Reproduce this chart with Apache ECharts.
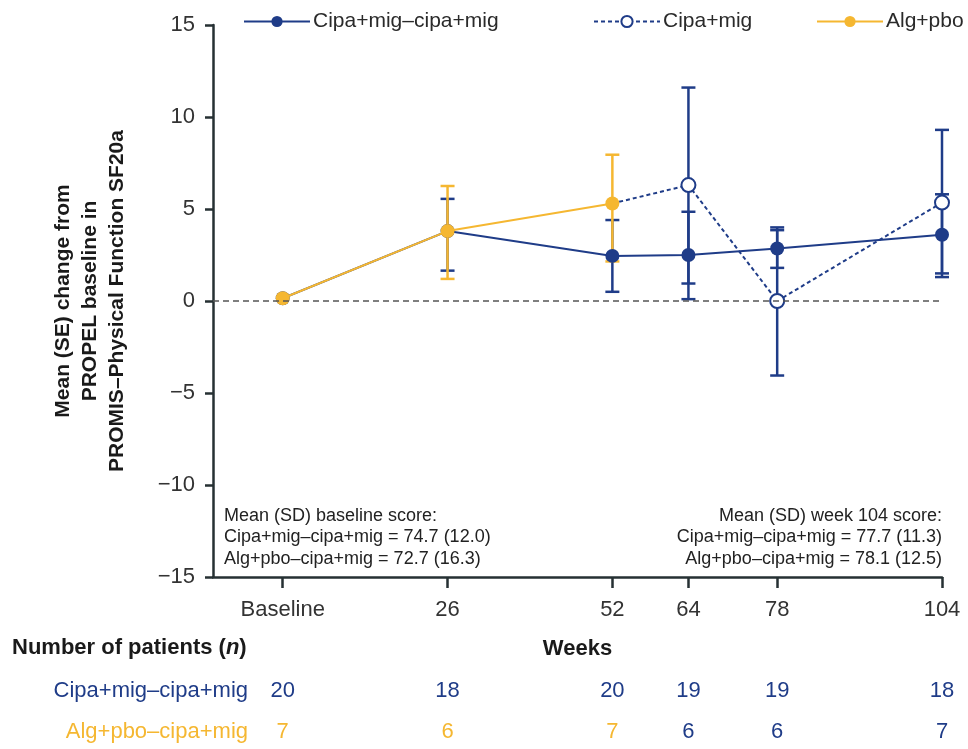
<!DOCTYPE html>
<html>
<head>
<meta charset="utf-8">
<script src="https://cdn.jsdelivr.net/npm/echarts@6/dist/echarts.min.js"></script>
<style>
  html, body { margin: 0; padding: 0; background: #fff; }
  #chart { width: 968px; height: 749px; }
</style>
</head>
<body>
<div id="chart"></div>
<script>
// weeks shown on the x axis (0 = baseline)
var weeks = [0, 26, 52, 64, 78, 104];
var tickWeeks = [0, 26, 52, 64, 78, 104];

// Cipa+mig–cipa+mig : mean (SE) change
var cipaMean = [0.15, 3.8, 2.45, 2.5, 2.85, 3.6];
var cipaLow  = [null, 1.65, 0.5, 0.1, 1.8, 1.5];
var cipaHigh = [null, 5.55, 4.4, 4.85, 3.85, 5.8];

// Alg+pbo period
var algWeeks = [0, 26, 52];
var algMean  = [0.15, 3.8, 5.3];
var algLow   = [null, 1.2, 2.15];
var algHigh  = [null, 6.25, 7.95];

// Alg+pbo switched to cipa+mig after week 52
var switchWeeks = [52, 64, 78, 104];
var switchMean  = [5.3, 6.3, 0, 5.35];
var switchLow   = [null, 0.95, -4.05, 1.3];
var switchHigh  = [null, 11.6, 4.0, 9.3];

// number of patients
var nCipa = [20, 18, 20, 19, 19, 18];
var nAlg  = [7, 6, 7, 6, 6, 7];
var switchAfter = 52;

var NAVY = '#1f3c88';
var GOLD = '#f5b731';
var AXIS = '#263033';
var FONT = "'Liberation Sans', Arial, sans-serif";

function pairs(xs, ys) {
  return xs.map(function (x, i) { return [x, ys[i]]; });
}
function bars(xs, lo, hi) {
  var out = [];
  xs.forEach(function (x, i) {
    if (lo[i] != null) out.push([x, lo[i], hi[i]]);
  });
  return out;
}
function errorBar(color) {
  return function (params, api) {
    var x = api.value(0);
    var a = api.coord([x, api.value(1)]);
    var b = api.coord([x, api.value(2)]);
    var hw = 7;
    var st = { stroke: color, lineWidth: 2.5 };
    return {
      type: 'group',
      children: [
        { type: 'line', shape: { x1: a[0], y1: a[1], x2: b[0], y2: b[1] }, style: st },
        { type: 'line', shape: { x1: a[0] - hw, y1: a[1], x2: a[0] + hw, y2: a[1] }, style: st },
        { type: 'line', shape: { x1: b[0] - hw, y1: b[1], x2: b[0] + hw, y2: b[1] }, style: st }
      ]
    };
  };
}

var myChart = echarts.init(document.getElementById('chart'));

var switchData = pairs(switchWeeks, switchMean).map(function (p, i) {
  return i === 0 ? { value: p, symbol: 'none' } : p;
});

var legendBase = {
  top: 11,
  padding: 0,
  itemWidth: 66,
  itemHeight: 14,
  itemGap: 0,
  textStyle: { fontFamily: FONT, fontSize: 21, color: '#2a2a2a', padding: [0, 0, 0, -2] }
};

myChart.setOption({
  animation: false,
  grid: { left: 213, right: 26, top: 25, bottom: 172 },
  legend: [
    Object.assign({ left: 243, data: ['Cipa+mig–cipa+mig'] }, legendBase),
    Object.assign({ left: 593, data: ['Cipa+mig'] }, legendBase),
    Object.assign({ left: 816, data: ['Alg+pbo'] }, legendBase)
  ],
  xAxis: {
    type: 'value',
    min: -11,
    max: 104,
    name: 'Weeks',
    nameLocation: 'middle',
    nameGap: 61,
    nameTextStyle: { fontFamily: FONT, fontSize: 22, fontWeight: 'bold', color: '#1a1a1a' },
    splitLine: { show: false },
    axisLine: { onZero: false, lineStyle: { color: AXIS, width: 2.5 } },
    axisTick: { customValues: tickWeeks, length: 11, lineStyle: { color: AXIS, width: 2.5 } },
    axisLabel: {
      customValues: tickWeeks,
      margin: 22,
      fontFamily: FONT, fontSize: 22, color: '#333',
      formatter: function (v) { return v === 0 ? 'Baseline' : String(v); }
    }
  },
  yAxis: {
    type: 'value',
    min: -15,
    max: 15,
    interval: 5,
    name: 'Mean (SE) change from\nPROPEL baseline in\nPROMIS–Physical Function SF20a',
    nameLocation: 'middle',
    nameRotate: 90,
    nameGap: 82,
    nameTextStyle: { fontFamily: FONT, fontSize: 21, fontWeight: 'bold', color: '#1a1a1a', lineHeight: 27, align: 'center' },
    splitLine: { show: false },
    axisLine: { show: true, onZero: false, lineStyle: { color: AXIS, width: 2.5 } },
    axisTick: { show: true, length: 8, lineStyle: { color: AXIS, width: 2.5 } },
    axisLabel: {
      margin: 18, fontFamily: FONT, fontSize: 22, color: '#333',
      formatter: function (v) { return v < 0 ? '\u2212' + Math.abs(v) : String(v); }
    }
  },
  series: [
    { type: 'custom', name: 'cipaErr', renderItem: errorBar(NAVY), data: bars(weeks, cipaLow, cipaHigh), z: 1 },
    { type: 'custom', name: 'switchErr', renderItem: errorBar(NAVY), data: bars(switchWeeks, switchLow, switchHigh), z: 1 },
    { type: 'custom', name: 'algErr', renderItem: errorBar(GOLD), data: bars(algWeeks, algLow, algHigh), z: 1 },
    {
      name: 'Cipa+mig–cipa+mig',
      type: 'line',
      data: pairs(weeks, cipaMean),
      symbol: 'circle',
      symbolSize: 14,
      itemStyle: { color: NAVY },
      lineStyle: { color: NAVY, width: 2 },
      z: 3,
      markLine: {
        silent: true,
        symbol: 'none',
        label: { show: false },
        lineStyle: { color: '#555', type: [6, 4], width: 1.5 },
        data: [{ yAxis: 0 }]
      }
    },
    {
      name: 'Cipa+mig',
      type: 'line',
      data: switchData,
      symbol: 'emptyCircle',
      symbolSize: 14,
      itemStyle: { color: NAVY, borderWidth: 2 },
      lineStyle: { color: NAVY, width: 2, type: [4, 3] },
      z: 3
    },
    {
      name: 'Alg+pbo',
      type: 'line',
      data: pairs(algWeeks, algMean),
      symbol: 'circle',
      symbolSize: 14,
      itemStyle: { color: GOLD },
      lineStyle: { color: GOLD, width: 2 },
      z: 4
    }
  ]
});

// annotation boxes and patient count table
var g = [];
var noteStyle = { fontFamily: FONT, fontSize: 18, fill: '#222' };
['Mean (SD) baseline score:', 'Cipa+mig–cipa+mig = 74.7 (12.0)', 'Alg+pbo–cipa+mig = 72.7 (16.3)']
  .forEach(function (t, i) {
    g.push({ type: 'text', left: 224, top: 507 + i * 21.5, style: Object.assign({ text: t }, noteStyle) });
  });
['Mean (SD) week 104 score:', 'Cipa+mig–cipa+mig = 77.7 (11.3)', 'Alg+pbo–cipa+mig = 78.1 (12.5)']
  .forEach(function (t, i) {
    g.push({ type: 'text', right: 26, top: 507 + i * 21.5, style: Object.assign({ text: t, textAlign: 'right' }, noteStyle) });
  });

g.push({
  type: 'text', left: 12, top: 637,
  style: {
    text: '{b|Number of patients (}{i|n}{b|)}',
    rich: {
      b: { fontFamily: FONT, fontSize: 22, fontWeight: 'bold', fill: '#1a1a1a' },
      i: { fontFamily: FONT, fontSize: 22, fontWeight: 'bold', fontStyle: 'italic', fill: '#1a1a1a' }
    }
  }
});
var rowY = [691, 732];
g.push({ type: 'text', x: 248, y: rowY[0], style: { text: 'Cipa+mig–cipa+mig', fontFamily: FONT, fontSize: 22, fill: NAVY, textAlign: 'right', textVerticalAlign: 'middle' } });
g.push({ type: 'text', x: 248, y: rowY[1], style: { text: 'Alg+pbo–cipa+mig', fontFamily: FONT, fontSize: 22, fill: GOLD, textAlign: 'right', textVerticalAlign: 'middle' } });

weeks.forEach(function (w, i) {
  var px = myChart.convertToPixel({ xAxisIndex: 0 }, w);
  g.push({ type: 'text', x: px, y: rowY[0], style: { text: String(nCipa[i]), fontFamily: FONT, fontSize: 22, fill: NAVY, textAlign: 'center', textVerticalAlign: 'middle' } });
  g.push({ type: 'text', x: px, y: rowY[1], style: { text: String(nAlg[i]), fontFamily: FONT, fontSize: 22, fill: w > switchAfter ? NAVY : GOLD, textAlign: 'center', textVerticalAlign: 'middle' } });
});

myChart.setOption({ graphic: g });
</script>
</body>
</html>
